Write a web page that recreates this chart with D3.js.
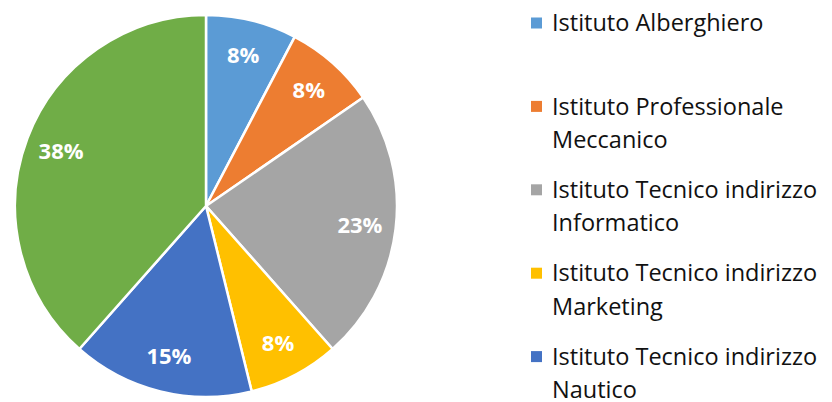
<!DOCTYPE html>
<html>
<head>
<meta charset="utf-8">
<script src="https://cdn.jsdelivr.net/npm/d3@7"></script>
<style>
  html, body { margin: 0; padding: 0; background: #fff; }
  svg { display: block; font-family: "Open Sans", "Liberation Sans", sans-serif; }
</style>
</head>
<body>
<svg id="chart" width="832" height="402"></svg>
<script>
// Chart data
const categories = [
  "Istituto Alberghiero",
  "Istituto Professionale Meccanico",
  "Istituto Tecnico indirizzo Informatico",
  "Istituto Tecnico indirizzo Marketing",
  "Istituto Tecnico indirizzo Nautico",
  "Altro"
];
const legendLines = [
  ["Istituto Alberghiero"],
  ["Istituto Professionale", "Meccanico"],
  ["Istituto Tecnico indirizzo", "Informatico"],
  ["Istituto Tecnico indirizzo", "Marketing"],
  ["Istituto Tecnico indirizzo", "Nautico"]
];
const values = [1, 1, 3, 1, 2, 5];
const colors = ["#5B9BD5", "#ED7D31", "#A5A5A5", "#FFC000", "#4472C4", "#70AD47"];

const svg = d3.select("#chart");
const cx = 206, cy = 206, radius = 191;

const color = d3.scaleOrdinal().domain(categories).range(colors);
const total = d3.sum(values);
const slices = d3.pie().sort(null).value((d) => d.value)(
  categories.map((c, i) => ({ name: c, value: values[i] }))
);

const arc = d3.arc().innerRadius(0).outerRadius(radius);
const labelArc = d3.arc().innerRadius(155).outerRadius(155);

const g = svg.append("g").attr("transform", `translate(${cx},${cy})`);

g.selectAll("path.slice")
  .data(slices)
  .enter()
  .append("path")
  .attr("class", "slice")
  .attr("d", arc)
  .attr("fill", (d) => color(d.data.name))
  .attr("stroke", "#fff")
  .attr("stroke-width", 2.5)
  .attr("stroke-linejoin", "round");

g.selectAll("text.pct")
  .data(slices)
  .enter()
  .append("text")
  .attr("class", "pct")
  .attr("transform", (d) => `translate(${labelArc.centroid(d)})`)
  .attr("text-anchor", "middle")
  .attr("dy", "0.36em")
  .attr("fill", "#fff")
  .attr("font-weight", "bold")
  .attr("font-size", 22)
  .text((d) => Math.round((d.value / total) * 100) + "%");

// Legend (the last entry falls outside the frame, as in the original)
const legend = svg.append("g").attr("transform", "translate(531,0)");
const entry = legend.selectAll("g.entry")
  .data(legendLines)
  .enter()
  .append("g")
  .attr("class", "entry")
  .attr("transform", (d, i) => `translate(0,${23 + i * 83.4})`);

entry.append("rect")
  .attr("x", 0)
  .attr("y", -5.5)
  .attr("width", 11)
  .attr("height", 11)
  .attr("fill", (d, i) => colors[i]);

entry.append("text")
  .attr("x", 21)
  .attr("font-size", 23.5)
  .attr("fill", "#111")
  .selectAll("tspan")
  .data((d) => d)
  .enter()
  .append("tspan")
  .attr("x", 21)
  .attr("y", (d, i) => i * 33.3)
  .attr("dy", "0.35em")
  .text((d) => d);
</script>
</body>
</html>
